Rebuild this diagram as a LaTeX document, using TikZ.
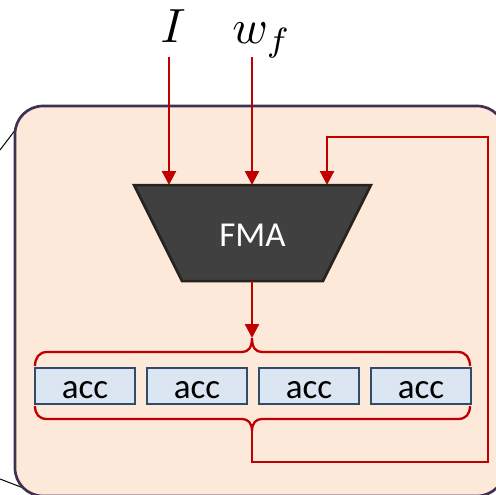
\documentclass[tikz,border=0pt]{standalone}
\usepackage{fontspec}
\newfontfamily\calibri{Carlito}
\usetikzlibrary{arrows.meta}
\definecolor{peach}{HTML}{FDE9D9}
\definecolor{framecol}{HTML}{403152}
\definecolor{myred}{HTML}{C00000}
\definecolor{fmafill}{HTML}{404040}
\definecolor{fmaline}{HTML}{24241C}
\definecolor{accfill}{HTML}{DCE6F2}
\definecolor{accline}{HTML}{2F4B6E}
\begin{document}
\begin{tikzpicture}[x=1pt,y=-1pt,
  redline/.style={myred,line width=2.3pt},
  arr/.style={redline,-{Triangle[width=14pt,length=14pt]}},
  accbox/.style={draw=accline,fill=accfill,line width=1.8pt,minimum width=100pt,minimum height=36pt,inner sep=0pt,text height=25pt,text depth=0pt,font=\calibri\fontsize{35}{35}\selectfont},
  mathlabel/.style={inner sep=0pt,anchor=base},
]
\useasboundingbox (0,0) rectangle (496,495);
% side lines
\draw[black,line width=1pt] (0,150) -- (16,129);
\draw[black,line width=1pt] (0,479) -- (26,489);
% background panel
\draw[framecol,fill=peach,line width=2.7pt,rounded corners=28pt] (15,106) rectangle (505,496);
% FMA trapezoid
\draw[fmaline,fill=fmafill,line width=2.5pt,line join=miter] (134,185) -- (371,185) -- (323,281) -- (182,281) -- cycle;
\node[inner sep=0pt,text height=23pt,text depth=0pt,text=white,font=\calibri\fontsize{35}{35}\selectfont] (fma) at (252.5,235) {FMA};
\coordinate (inI) at (169,185);
\coordinate (inW) at (252,185);
\coordinate (inFb) at (327,185);
\coordinate (fmaOut) at (252,281);
% inputs
\node[mathlabel] (I) at (173,43) {\scalebox{4.8}{$I$}};
\node[mathlabel] (wf) at (262,44) {\scalebox{4.8}{$w_f$}};
\coordinate (Istart) at (169,57);
\coordinate (wstart) at (252,57);
\draw[arr] (Istart) -- (inI);
\draw[arr] (wstart) -- (inW);
% acc boxes
\node[accbox] (acc1) at (85,386) {acc};
\node[accbox] (acc2) at (197,386) {acc};
\node[accbox] (acc3) at (309,386) {acc};
\node[accbox] (acc4) at (421,386) {acc};
% braces
\coordinate (topcusp) at (252,338);
\coordinate (botcusp) at (252,431);
\draw[redline] (35,366) .. controls (35,358) and (39,352) .. (47,352) -- (242,352)
  .. controls (248,352) and (252,348) .. (topcusp)
  .. controls (252,348) and (256,352) .. (262,352) -- (458,352)
  .. controls (466,352) and (470,358) .. (470,366);
\draw[redline] (35,406) .. controls (35,414) and (39,419) .. (47,419) -- (242,419)
  .. controls (248,419) and (252,423) .. (botcusp)
  .. controls (252,423) and (256,419) .. (262,419) -- (458,419)
  .. controls (466,419) and (470,414) .. (470,406);
% FMA output
\draw[arr] (fmaOut) -- (topcusp);
% feedback
\coordinate (fb1) at (252,462);
\coordinate (fb2) at (488,462);
\coordinate (fb3) at (488,137);
\coordinate (fb4) at (327,137);
\draw[arr,line join=miter] (botcusp) -- (fb1) -- (fb2) -- (fb3) -- (fb4) -- (inFb);
\end{tikzpicture}
\end{document}
